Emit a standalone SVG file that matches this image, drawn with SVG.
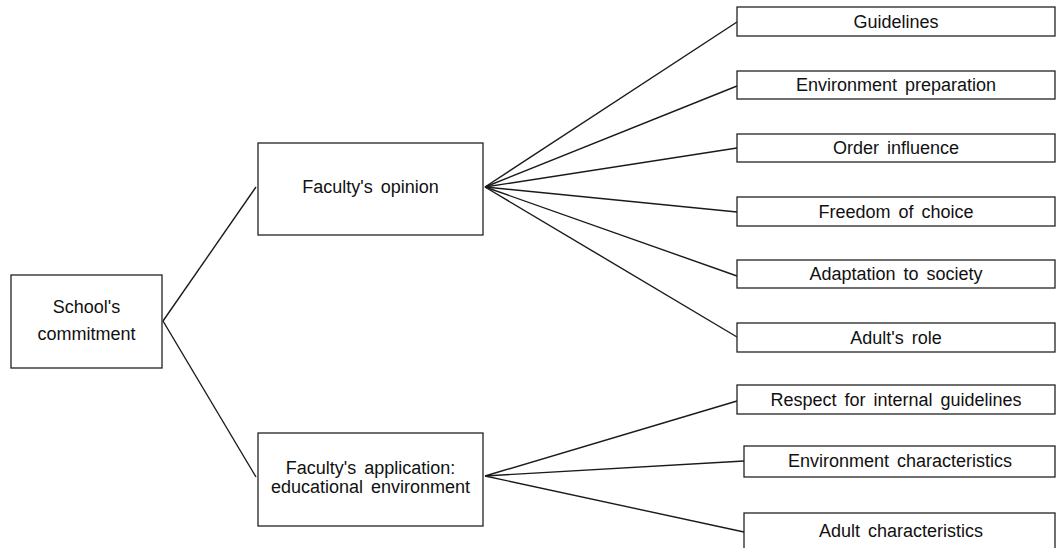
<svg xmlns="http://www.w3.org/2000/svg" width="1056" height="548" viewBox="0 0 1056 548">
<style>
.box{fill:#fff;stroke:#222;stroke-width:1.3}
.t{font-family:"Liberation Sans",Arial,sans-serif;font-size:18px;fill:#111;text-anchor:middle;word-spacing:3px}
.c line{stroke:#1a1a1a;stroke-width:1.4}
</style>
<rect width="1056" height="548" fill="#fff"/>
<g class="c" id="connectors">
<line x1="163" y1="321" x2="256" y2="187"/>
<line x1="163" y1="321" x2="256" y2="477"/>
<line x1="485" y1="187" x2="737" y2="22"/>
<line x1="485" y1="187" x2="737" y2="86"/>
<line x1="485" y1="187" x2="737" y2="148"/>
<line x1="485" y1="187" x2="737" y2="212"/>
<line x1="485" y1="187" x2="737" y2="276"/>
<line x1="485" y1="187" x2="737" y2="337"/>
<line x1="485" y1="476" x2="737" y2="401"/>
<line x1="485" y1="476" x2="744" y2="461"/>
<line x1="485" y1="476" x2="744" y2="532"/>
</g>
<g id="school">
<rect class="box" x="11" y="275" width="151" height="93"/>
<text class="t" x="86.5" y="313">School's</text>
<text class="t" x="86.5" y="340">commitment</text>
</g>
<g id="opinion">
<rect class="box" x="258" y="143" width="225" height="92"/>
<text class="t" x="370.5" y="193">Faculty's opinion</text>
</g>
<g id="application">
<rect class="box" x="258" y="433" width="225" height="93"/>
<text class="t" x="370.5" y="474">Faculty's application:</text>
<text class="t" x="370.5" y="493">educational environment</text>
</g>
<g id="guidelines">
<rect class="box" x="737" y="7" width="318" height="29"/>
<text class="t" x="896" y="27.5">Guidelines</text>
</g>
<g id="envprep">
<rect class="box" x="737" y="71" width="318" height="28"/>
<text class="t" x="896" y="91">Environment preparation</text>
</g>
<g id="order">
<rect class="box" x="737" y="134" width="318" height="28"/>
<text class="t" x="896" y="154">Order influence</text>
</g>
<g id="freedom">
<rect class="box" x="737" y="197" width="318" height="29"/>
<text class="t" x="896" y="217.5">Freedom of choice</text>
</g>
<g id="adaptation">
<rect class="box" x="737" y="260" width="318" height="28"/>
<text class="t" x="896" y="280">Adaptation to society</text>
</g>
<g id="adultrole">
<rect class="box" x="737" y="323" width="318" height="29"/>
<text class="t" x="896" y="343.5">Adult's role</text>
</g>
<g id="respect">
<rect class="box" x="737" y="385" width="318" height="29"/>
<text class="t" x="896" y="405.5">Respect for internal guidelines</text>
</g>
<g id="envchar">
<rect class="box" x="744" y="446" width="311" height="31"/>
<text class="t" x="900" y="467">Environment characteristics</text>
</g>
<g id="adultchar">
<rect class="box" x="744" y="513" width="311" height="45"/>
<text class="t" x="901" y="537">Adult characteristics</text>
</g>
</svg>
